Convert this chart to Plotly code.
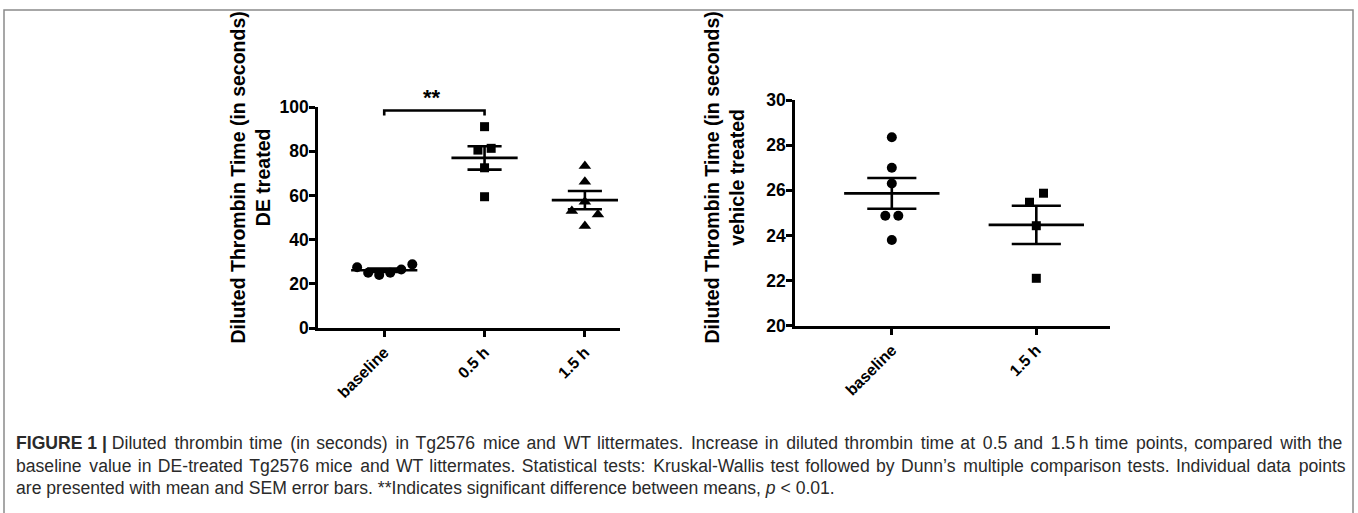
import plotly.graph_objects as go

# ---------------- data ----------------
categories_de = ["baseline", "0.5 h", "1.5 h"]
categories_veh = ["baseline", "1.5 h"]

de_baseline = [27.5, 25.0, 24.0, 25.0, 26.5, 28.8]
de_05h = [91.1, 80.5, 81.3, 72.5, 59.4]
de_15h = [73.3, 66.2, 57.1, 52.9, 51.4, 46.2]

veh_baseline = [28.35, 27.0, 26.3, 24.87, 24.87, 23.8]
veh_15h = [25.87, 25.47, 24.43, 22.1]

de_ticks = [0, 20, 40, 60, 80, 100]
veh_ticks = [20, 22, 24, 26, 28, 30]

# ---------------- style ----------------
# horizontal spread of points (scatter-dot style), in category units
spread_de = [
    [-0.27, -0.16, -0.05, 0.06, 0.17, 0.28],
    [0.0, -0.066, 0.066, 0.0, 0.0],
    [0.0, 0.0, 0.0, -0.13, 0.13, 0.0],
]
spread_veh = [
    [0.0, 0.0, 0.0, -0.045, 0.045, 0.0],
    [0.05, -0.047, 0.0, 0.0],
]
symbols_de = ["circle", "square", "triangle-up"]
symbols_veh = ["circle", "square"]
sizes = {"circle": 10, "square": 9, "triangle-up": 11}

FONT = "Liberation Sans, Arial, sans-serif"
CAPFONT = "Liberation Sans, Arial, sans-serif"
LW = 2.6
MEAN_HALF = 0.33
CAP_HALF = 0.17

W, H = 1358, 513

fig = go.Figure()


def mean_sem(vals):
    n = len(vals)
    m = sum(vals) / n
    var = sum((v - m) ** 2 for v in vals) / (n - 1)
    return m, (var ** 0.5) / (n ** 0.5)


def add_group(xa, ya, idx, vals, offs, symbol):
    m, s = mean_sem(vals)
    fig.add_trace(go.Scatter(
        x=[idx + o for o in offs], y=vals, mode="markers",
        marker=dict(symbol=symbol, size=sizes[symbol], color="black"),
        xaxis=xa, yaxis=ya, cliponaxis=False, showlegend=False))
    xs = [idx - MEAN_HALF, idx + MEAN_HALF, None,
          idx, idx, None,
          idx - CAP_HALF, idx + CAP_HALF, None,
          idx - CAP_HALF, idx + CAP_HALF]
    ys = [m, m, None,
          m - s, m + s, None,
          m + s, m + s, None,
          m - s, m - s]
    fig.add_trace(go.Scatter(
        x=xs, y=ys, mode="lines", line=dict(color="black", width=LW),
        xaxis=xa, yaxis=ya, cliponaxis=False, showlegend=False, hoverinfo="skip"))


for i, (vals, offs, sym) in enumerate(zip([de_baseline, de_05h, de_15h], spread_de, symbols_de)):
    add_group("x", "y", i, vals, offs, sym)
for i, (vals, offs, sym) in enumerate(zip([veh_baseline, veh_15h], spread_veh, symbols_veh)):
    add_group("x2", "y2", i, vals, offs, sym)


def px_x(p):
    return p / W


def px_y(p):
    return 1 - p / H


axis_common = dict(
    showline=True, linecolor="black", linewidth=LW, mirror=False,
    ticks="outside", ticklen=6, tickwidth=LW, tickcolor="black",
    showgrid=False, zeroline=False, automargin=False,
)
ytickfont = dict(family=FONT, size=17.5, color="black", weight="bold")
xtickfont = dict(family=FONT, size=16, color="black", weight="bold")

fig.update_layout(
    template="none",
    width=W, height=H, autosize=False,
    margin=dict(l=0, r=0, t=0, b=0, pad=0, autoexpand=False),
    paper_bgcolor="white", plot_bgcolor="white",
    showlegend=False,
    xaxis=dict(axis_common, domain=[px_x(318), px_x(620)], range=[-0.66, 2.35],
               tickvals=[0, 1, 2], ticktext=categories_de, tickangle=-45,
               anchor="y", tickfont=xtickfont),
    yaxis=dict(axis_common, domain=[px_y(328), px_y(107)], range=[0, 100],
               tickvals=de_ticks, anchor="x", tickfont=ytickfont, ticklabelstandoff=-3),
    xaxis2=dict(axis_common, domain=[px_x(795), px_x(1110)], range=[-0.67, 1.51],
                tickvals=[0, 1], ticktext=categories_veh, tickangle=-45,
                anchor="y2", tickfont=xtickfont),
    yaxis2=dict(axis_common, domain=[px_y(325.7), px_y(100)], range=[20, 30],
                tickvals=veh_ticks, anchor="x2", tickfont=ytickfont, ticklabelstandoff=-3),
)

# significance bracket
fig.add_shape(type="path", xref="x", yref="y",
              path="M 0 96.2 L 0 98.4 L 1 98.4 L 1 96.2",
              line=dict(color="black", width=LW))
fig.add_annotation(x=0.48, y=px_y(97), xref="x", yref="paper", text="<b>**</b>",
                   showarrow=False, xanchor="center", yanchor="middle",
                   font=dict(family=FONT, size=22, color="black"))

# y-axis titles
fig.add_annotation(x=px_x(249.5), y=px_y(178), xref="paper", yref="paper",
                   text="<b>Diluted Thrombin Time (in seconds)<br>DE treated</b>",
                   textangle=-90, showarrow=False, xanchor="center", yanchor="middle",
                   font=dict(family=FONT, size=19.5, color="black"))
fig.add_annotation(x=px_x(723.5), y=px_y(178), xref="paper", yref="paper",
                   text="<b>Diluted Thrombin Time (in seconds)<br>vehicle treated</b>",
                   textangle=-90, showarrow=False, xanchor="center", yanchor="middle",
                   font=dict(family=FONT, size=19.5, color="black"))

# frame
fig.add_shape(type="path", xref="paper", yref="paper",
              path=f"M {px_x(4)} 0 L {px_x(4)} {px_y(10)} L {px_x(1353)} {px_y(10)} L {px_x(1353)} 0",
              line=dict(color="#8a8a8a", width=1.5))

# caption (first two lines are justified in the original)
caption = [
    "<b>FIGURE 1 |</b> Diluted thrombin time (in seconds) in Tg2576 mice and WT littermates. Increase in diluted thrombin time at 0.5 and 1.5\u2009h time points, compared with the",
    "baseline value in DE-treated Tg2576 mice and WT littermates. Statistical tests: Kruskal-Wallis test followed by Dunn\u2019s multiple comparison tests. Individual data points",
    "are presented with mean and SEM error bars. **Indicates significant difference between means, <i>p</i> &lt; 0.01.",
]
# extra hair spaces per word gap (approximate justification): every gap gets base, every n-th gets one more
justify = [(1, 2), (1, 5), (0, 0)]


def stretch(line, base, every):
    if base == 0:
        return line
    head = ""
    if line.startswith("<b>FIGURE 1 |</b> "):
        head, line = "<b>FIGURE 1 |</b> ", line[len("<b>FIGURE 1 |</b> "):]
    words = line.split(" ")
    out = words[0]
    for j, w in enumerate(words[1:]):
        extra = base + (1 if every and j % every == 0 else 0)
        out += " " + "\u200a" * extra + w
    return head + out


for k, line in enumerate(caption):
    txt = stretch(line, *justify[k])
    fig.add_annotation(x=px_x(14), y=px_y(443 + 22.5 * k), xref="paper", yref="paper",
                       text=txt, showarrow=False, xanchor="left", yanchor="middle",
                       font=dict(family=CAPFONT, size=17.6, color="#2a2a2a"))

fig.write_html("out.html", config={"displayModeBar": False},
               post_script="document.body.style.margin='0';")
